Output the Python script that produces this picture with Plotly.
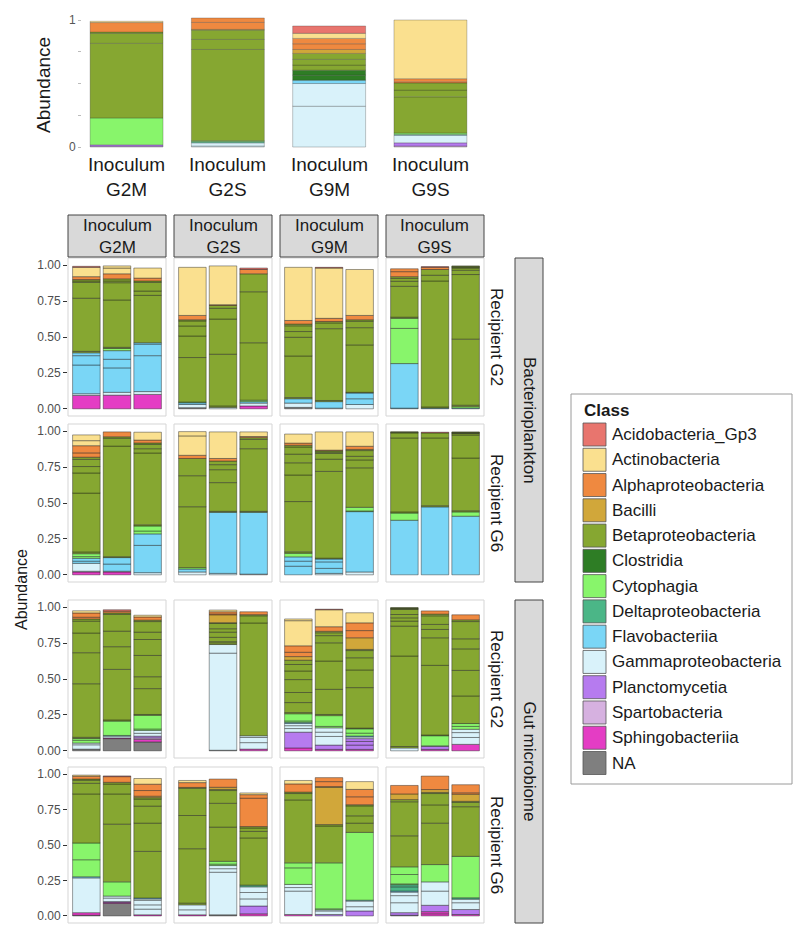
import plotly.graph_objects as go

# ---------------- data ----------------
CLASSES = ["Acidobacteria_Gp3", "Actinobacteria", "Alphaproteobacteria", "Bacilli",
           "Betaproteobacteria", "Clostridia", "Cytophagia", "Deltaproteobacteria",
           "Flavobacteriia", "Gammaproteobacteria", "Planctomycetia", "Spartobacteria",
           "Sphingobacteriia", "NA"]
CODES = ["Ac", "At", "Al", "Ba", "Be", "Cl", "Cy", "De", "Fl", "Ga", "Pl", "Sp", "Sh", "NA"]
INOCULA = ["G2M", "G2S", "G9M", "G9S"]
SOURCES = ["Bacterioplankton", "Gut microbiome"]
RECIPIENTS = ["Recipient G2", "Recipient G6"]
Y_TICKS = [0, 0.25, 0.5, 0.75, 1.0]
Y_TICK_TEXT = ["0.00", "0.25", "0.50", "0.75", "1.00"]
TOP_TICK_TEXT = ["0", "", "", "", "1"]

# Inoculum bars (segments bottom -> top: class code, abundance)
INOC_G2M = [("Sp", 0.005), ("Pl", 0.012), ("Cy", 0.212), ("Be", 0.587), ("Be", 0.079), ("Be", 0.010),
            ("Al", 0.075), ("At", 0.010)]
INOC_G2S = [("Ga", 0.008), ("Ga", 0.025), ("De", 0.010), ("Cy", 0.007), ("Be", 0.718), ("Be", 0.079),
            ("Be", 0.073), ("Be", 0.006), ("Al", 0.055), ("Al", 0.035)]
INOC_G9M = [("Ga", 0.321), ("Ga", 0.179), ("Fl", 0.026), ("Cl", 0.040), ("Cl", 0.039), ("Be", 0.040),
            ("Be", 0.045), ("Be", 0.047), ("Ba", 0.031), ("Al", 0.045), ("Al", 0.042), ("At", 0.040),
            ("Ac", 0.058)]
INOC_G9S = [("Sp", 0.008), ("Pl", 0.025), ("Ga", 0.059), ("Fl", 0.006), ("Cy", 0.012), ("Be", 0.285),
            ("Be", 0.053), ("Be", 0.057), ("Al", 0.008), ("Al", 0.025), ("At", 0.462)]

# Bacterioplankton, Recipient G2
BP_G2_G2M = [
    [("Sh", 0.093), ("Ga", 0.012), ("Fl", 0.200), ("Fl", 0.065), ("Fl", 0.020), ("Be", 0.010), ("Be", 0.370),
     ("Be", 0.110), ("Be", 0.010), ("Be", 0.010), ("Al", 0.020), ("At", 0.065), ("Ac", 0.007)],
    [("Sh", 0.095), ("Ga", 0.020), ("Fl", 0.170), ("Fl", 0.060), ("Fl", 0.060), ("Cy", 0.015), ("Be", 0.008),
     ("Be", 0.330), ("Be", 0.120), ("Be", 0.012), ("Be", 0.015), ("Al", 0.035), ("At", 0.040), ("At", 0.015)],
    [("Sh", 0.100), ("Ga", 0.020), ("Fl", 0.250), ("Fl", 0.080), ("Fl", 0.010), ("Be", 0.330), ("Be", 0.030),
     ("Be", 0.060), ("Be", 0.010), ("Al", 0.020), ("At", 0.070)],
]
BP_G2_G2S = [
    [("NA", 0.008), ("Ga", 0.022), ("Fl", 0.012), ("Cy", 0.005), ("Be", 0.310), ("Be", 0.150), ("Be", 0.070),
     ("Be", 0.035), ("Be", 0.008), ("Al", 0.030), ("At", 0.335)],
    [("Ga", 0.010), ("Be", 0.010), ("Be", 0.360), ("Be", 0.245), ("Be", 0.075), ("Be", 0.020), ("Al", 0.005),
     ("At", 0.270)],
    [("Sh", 0.020), ("Ga", 0.020), ("Fl", 0.010), ("Cy", 0.010), ("Be", 0.400), ("Be", 0.355), ("Be", 0.125),
     ("Al", 0.030), ("Ac", 0.010)],
]
BP_G2_G9M = [
    [("NA", 0.010), ("Ga", 0.030), ("Fl", 0.030), ("Be", 0.008), ("Be", 0.290), ("Be", 0.130), ("Be", 0.040),
     ("Be", 0.040), ("Be", 0.012), ("Al", 0.025), ("At", 0.370)],
    [("Ga", 0.005), ("Fl", 0.045), ("Be", 0.008), ("Be", 0.500), ("Be", 0.040), ("Be", 0.010), ("Al", 0.022),
     ("At", 0.350), ("Ac", 0.005)],
    [("Ga", 0.030), ("Fl", 0.040), ("Fl", 0.040), ("Be", 0.005), ("Be", 0.330), ("Be", 0.120), ("Be", 0.045),
     ("Be", 0.010), ("Al", 0.030), ("At", 0.320)],
]
BP_G2_G9S = [
    [("Fl", 0.005), ("Fl", 0.310), ("Cy", 0.245), ("Cy", 0.070), ("Be", 0.008), ("Be", 0.215), ("Be", 0.035),
     ("Be", 0.020), ("Be", 0.012), ("Al", 0.035), ("Al", 0.020)],
    [("Fl", 0.005), ("Be", 0.008), ("Be", 0.877), ("Be", 0.040), ("Be", 0.040), ("Al", 0.015), ("Ac", 0.005)],
    [("Fl", 0.005), ("Cy", 0.010), ("Be", 0.010), ("Be", 0.460), ("Be", 0.450), ("Be", 0.030), ("Be", 0.015),
     ("Be", 0.005), ("Be", 0.005), ("Be", 0.005)],
]

# Bacterioplankton, Recipient G6
BP_G6_G2M = [
    [("Sh", 0.020), ("Ga", 0.005), ("Ga", 0.055), ("Fl", 0.015), ("Fl", 0.020), ("Cy", 0.012), ("Cy", 0.020),
     ("Be", 0.012), ("Be", 0.410), ("Be", 0.140), ("Be", 0.045), ("Be", 0.050), ("Be", 0.015), ("Al", 0.030),
     ("Al", 0.050), ("At", 0.035), ("At", 0.040)],
    [("Sh", 0.020), ("Ga", 0.005), ("Fl", 0.050), ("Fl", 0.045), ("Be", 0.006), ("Be", 0.770), ("Be", 0.055),
     ("Be", 0.010), ("Al", 0.034)],
    [("Ga", 0.015), ("Fl", 0.190), ("Fl", 0.080), ("Cy", 0.020), ("Cy", 0.035), ("Be", 0.008), ("Be", 0.500),
     ("Be", 0.030), ("Be", 0.030), ("Be", 0.010), ("Al", 0.020), ("At", 0.055)],
]
BP_G6_G2S = [
    [("Ga", 0.020), ("Fl", 0.020), ("Cy", 0.010), ("Be", 0.424), ("Be", 0.216), ("Be", 0.120), ("Al", 0.022),
     ("At", 0.135), ("At", 0.030)],
    [("Ga", 0.010), ("Fl", 0.425), ("Be", 0.007), ("Be", 0.200), ("Be", 0.090), ("Be", 0.035), ("Be", 0.025),
     ("Al", 0.018), ("At", 0.185)],
    [("Ga", 0.005), ("Fl", 0.430), ("Be", 0.007), ("Be", 0.436), ("Be", 0.065), ("Be", 0.012), ("Al", 0.008),
     ("At", 0.032)],
]
BP_G6_G9M = [
    [("Fl", 0.060), ("Fl", 0.035), ("Fl", 0.030), ("Cy", 0.025), ("Be", 0.010), ("Be", 0.350), ("Be", 0.185),
     ("Be", 0.085), ("Be", 0.060), ("Be", 0.050), ("Be", 0.012), ("Al", 0.015), ("At", 0.063)],
    [("Ga", 0.010), ("Fl", 0.035), ("Fl", 0.045), ("Fl", 0.020), ("Be", 0.006), ("Be", 0.604), ("Be", 0.085),
     ("Be", 0.040), ("Be", 0.009), ("Be", 0.009), ("Al", 0.005), ("At", 0.127)],
    [("Ga", 0.020), ("Fl", 0.420), ("Cy", 0.005), ("Cy", 0.025), ("Be", 0.275), ("Be", 0.055), ("Be", 0.025),
     ("Be", 0.040), ("Be", 0.008), ("Al", 0.022), ("At", 0.100)],
]
BP_G6_G9S = [
    [("Fl", 0.380), ("Cy", 0.050), ("Be", 0.008), ("Be", 0.515), ("Be", 0.035), ("Be", 0.004), ("Be", 0.004)],
    [("Fl", 0.473), ("Be", 0.008), ("Be", 0.472), ("Be", 0.035), ("Ac", 0.005)],
    [("Fl", 0.408), ("Cy", 0.030), ("Be", 0.008), ("Be", 0.367), ("Be", 0.160), ("Be", 0.010), ("Be", 0.004),
     ("Be", 0.004), ("Be", 0.004)],
]

# Gut microbiome, Recipient G2
GM_G2_G2M = [
    [("NA", 0.012), ("Ga", 0.030), ("Ga", 0.012), ("Cy", 0.020), ("Cy", 0.012), ("Be", 0.008), ("Be", 0.373),
     ("Be", 0.216), ("Be", 0.137), ("Be", 0.083), ("Be", 0.015), ("Al", 0.012), ("Al", 0.030), ("At", 0.015)],
    [("NA", 0.085), ("Sh", 0.005), ("Ga", 0.012), ("Fl", 0.005), ("Cy", 0.100), ("Be", 0.008), ("Be", 0.352),
     ("Be", 0.158), ("Be", 0.108), ("Be", 0.117), ("Be", 0.010), ("Al", 0.012), ("Ac", 0.010)],
    [("NA", 0.062), ("Sh", 0.018), ("Sp", 0.010), ("Pl", 0.012), ("Ga", 0.020), ("Ga", 0.020), ("Cy", 0.010),
     ("Cy", 0.095), ("Be", 0.006), ("Be", 0.180), ("Be", 0.083), ("Be", 0.148), ("Be", 0.111), ("Be", 0.051),
     ("Be", 0.074), ("Be", 0.010), ("Al", 0.022), ("At", 0.012)],
]
GM_G2_G2S = [
    [],
    [("NA", 0.004), ("Ga", 0.676), ("Ga", 0.060), ("Be", 0.012), ("Be", 0.008), ("Be", 0.030), ("Be", 0.036),
     ("Be", 0.024), ("Be", 0.037), ("Be", 0.005), ("Ba", 0.055), ("Al", 0.006), ("Al", 0.015), ("At", 0.012)],
    [("Sh", 0.012), ("Ga", 0.045), ("Ga", 0.036), ("Ga", 0.012), ("Be", 0.785), ("Be", 0.050), ("Be", 0.008),
     ("Al", 0.020)],
]
GM_G2_G9M = [
    [("Sh", 0.020), ("Pl", 0.110), ("Ga", 0.025), ("Ga", 0.020), ("Ga", 0.015), ("Fl", 0.008), ("Cy", 0.010),
     ("Cy", 0.050), ("Be", 0.008), ("Be", 0.070), ("Be", 0.070), ("Be", 0.090), ("Be", 0.060), ("Be", 0.045),
     ("Be", 0.030), ("Ba", 0.025), ("Al", 0.030), ("Al", 0.045), ("At", 0.175), ("At", 0.012)],
    [("Sh", 0.010), ("Pl", 0.030), ("Ga", 0.060), ("Ga", 0.030), ("Ga", 0.030), ("Cy", 0.010), ("Cy", 0.075),
     ("Be", 0.008), ("Be", 0.175), ("Be", 0.197), ("Be", 0.127), ("Be", 0.050), ("Be", 0.020), ("Be", 0.010),
     ("Al", 0.032), ("At", 0.118), ("Ac", 0.004)],
    [("Sh", 0.010), ("Pl", 0.030), ("Pl", 0.025), ("Pl", 0.020), ("Ga", 0.012), ("Fl", 0.006), ("Cy", 0.020),
     ("Cy", 0.030), ("Be", 0.005), ("Be", 0.282), ("Be", 0.123), ("Be", 0.085), ("Be", 0.050), ("Be", 0.008),
     ("Ba", 0.081), ("Al", 0.050), ("Al", 0.054), ("At", 0.070)],
]
GM_G2_G9S = [
    [("Ga", 0.020), ("Be", 0.010), ("Be", 0.630), ("Be", 0.208), ("Be", 0.035), ("Be", 0.023), ("Be", 0.023),
     ("Be", 0.036), ("Be", 0.004), ("Be", 0.004), ("Be", 0.004)],
    [("Sh", 0.010), ("Pl", 0.020), ("Ga", 0.005), ("Cy", 0.070), ("Be", 0.005), ("Be", 0.485), ("Be", 0.192),
     ("Be", 0.058), ("Be", 0.035), ("Be", 0.060), ("Be", 0.012), ("Al", 0.022)],
    [("Sh", 0.045), ("Ga", 0.048), ("Ga", 0.034), ("Ga", 0.023), ("Cy", 0.020), ("Cy", 0.020), ("Be", 0.192),
     ("Be", 0.178), ("Be", 0.150), ("Be", 0.070), ("Be", 0.120), ("Be", 0.012), ("Al", 0.035)],
]

# Gut microbiome, Recipient G6
GM_G6_G2M = [
    [("NA", 0.005), ("Sh", 0.018), ("Ga", 0.245), ("Fl", 0.008), ("Cy", 0.120), ("Cy", 0.118), ("Be", 0.346),
     ("Be", 0.075), ("Be", 0.022), ("Be", 0.008), ("Al", 0.020), ("At", 0.008)],
    [("NA", 0.088), ("Sh", 0.008), ("Pl", 0.005), ("Ga", 0.025), ("Ga", 0.014), ("Cy", 0.100), ("Be", 0.407),
     ("Be", 0.213), ("Be", 0.070), ("Be", 0.012), ("Al", 0.040), ("Ac", 0.005)],
    [("Sh", 0.008), ("Ga", 0.040), ("Ga", 0.030), ("Ga", 0.032), ("Ga", 0.010), ("Fl", 0.006), ("Be", 0.329),
     ("Be", 0.199), ("Be", 0.120), ("Be", 0.050), ("Be", 0.010), ("Ba", 0.010), ("Al", 0.040), ("Al", 0.045),
     ("At", 0.040)],
]
GM_G6_G2S = [
    [("Sh", 0.008), ("Ga", 0.035), ("Ga", 0.035), ("Be", 0.012), ("Be", 0.384), ("Be", 0.234), ("Be", 0.192),
     ("Be", 0.006), ("Al", 0.034), ("At", 0.015)],
    [("NA", 0.008), ("Ga", 0.300), ("Ga", 0.025), ("Ga", 0.022), ("Cy", 0.010), ("Cy", 0.020), ("Be", 0.241),
     ("Be", 0.168), ("Be", 0.090), ("Be", 0.008), ("Ba", 0.015), ("Al", 0.058)],
    [("Sh", 0.015), ("Pl", 0.055), ("Ga", 0.050), ("Ga", 0.045), ("Ga", 0.040), ("De", 0.012), ("Be", 0.333),
     ("Be", 0.046), ("Be", 0.024), ("Be", 0.010), ("Al", 0.200), ("Al", 0.025), ("At", 0.012)],
]
GM_G6_G9M = [
    [("Sh", 0.010), ("Ga", 0.165), ("Ga", 0.025), ("Ga", 0.022), ("Cy", 0.117), ("Cy", 0.035), ("Be", 0.444),
     ("Be", 0.045), ("Be", 0.010), ("Al", 0.058), ("At", 0.024)],
    [("Pl", 0.010), ("Ga", 0.025), ("Ga", 0.008), ("Cy", 0.007), ("Cy", 0.324), ("Be", 0.260), ("Be", 0.010),
     ("Ba", 0.262), ("Ba", 0.006), ("Al", 0.035), ("Al", 0.028)],
    [("Pl", 0.035), ("Ga", 0.030), ("Ga", 0.040), ("Fl", 0.006), ("Cy", 0.478), ("Be", 0.065), ("Be", 0.052),
     ("Be", 0.070), ("Be", 0.008), ("Al", 0.056), ("Al", 0.052), ("At", 0.055)],
]
GM_G6_G9S = [
    [("NA", 0.005), ("Pl", 0.018), ("Ga", 0.070), ("Ga", 0.050), ("Ga", 0.025), ("Fl", 0.007), ("De", 0.030),
     ("De", 0.015), ("Cy", 0.006), ("Cy", 0.066), ("Cy", 0.054), ("Be", 0.219), ("Be", 0.240), ("Be", 0.015),
     ("Ba", 0.040), ("Al", 0.060)],
    [("Sh", 0.015), ("Sh", 0.015), ("Pl", 0.045), ("Ga", 0.100), ("Ga", 0.065), ("Cy", 0.122), ("Be", 0.292),
     ("Be", 0.129), ("Be", 0.080), ("Be", 0.008), ("Ba", 0.020), ("Al", 0.095)],
    [("Sh", 0.010), ("Pl", 0.035), ("Ga", 0.048), ("Ga", 0.025), ("De", 0.010), ("Cy", 0.292), ("Be", 0.350),
     ("Be", 0.030), ("Be", 0.008), ("Ba", 0.050), ("Al", 0.010), ("Al", 0.057)],
]

INOC_BARS = [INOC_G2M, INOC_G2S, INOC_G9M, INOC_G9S]
FACET_ROWS = [
    [BP_G2_G2M, BP_G2_G2S, BP_G2_G9M, BP_G2_G9S],
    [BP_G6_G2M, BP_G6_G2S, BP_G6_G9M, BP_G6_G9S],
    [GM_G2_G2M, GM_G2_G2S, GM_G2_G9M, GM_G2_G9S],
    [GM_G6_G2M, GM_G6_G2S, GM_G6_G9M, GM_G6_G9S],
]

# ---------------- style ----------------
PALETTE = ["#E8756E", "#FAE08F", "#EF8940", "#D1A73A", "#86A731", "#2E7D25", "#88F56B",
           "#4BB687", "#7AD6F6", "#D9F2FA", "#B67BEF", "#D6B1E0", "#E43DC4", "#7F7F7F"]
COLOR = dict(zip(CODES, PALETTE))
OUTLINE_TOP = "rgba(40,40,40,0.45)"
OUTLINE = "rgba(25,25,25,0.7)"
FONT = "Liberation Sans, Arial, Helvetica, sans-serif"
W, H = 800, 938


def fx(px):
    return px / W


def fy(py):
    return 1 - py / H


COL_PX = [(68, 166), (174, 272), (280, 378), (386, 484)]
ROW_PX = [(258, 416), (424, 582), (600, 758), (767, 923)]

fig = go.Figure()
layout = dict(
    width=W, height=H, margin=dict(l=0, r=0, t=0, b=0),
    paper_bgcolor="white", plot_bgcolor="white", barmode="overlay",
    showlegend=False, font=dict(family=FONT, color="#1a1a1a"),
)
shapes, annotations = [], []


def note(x, y, text, size, angle=0, xanchor="center", xref="paper", bold=False):
    annotations.append(dict(x=x, y=y, xref=xref, yref="paper",
                            text=("<b>%s</b>" % text) if bold else text,
                            textangle=angle, showarrow=False, xanchor=xanchor, yanchor="middle",
                            align="center" if xanchor == "center" else "left",
                            font=dict(size=size, color="#1a1a1a", family=FONT)))


def add_bars(bars, axis_n, width, outline):
    xs, ys, bases, cols = [], [], [], []
    for i, segs in enumerate(bars):
        cum = 0.0
        for code, val in segs:
            xs.append(i + 1)
            ys.append(val)
            bases.append(cum)
            cols.append(COLOR[code])
            cum += val
    sfx = "" if axis_n == 1 else str(axis_n)
    fig.add_trace(go.Bar(
        x=xs, y=ys, base=bases, width=width,
        marker=dict(color=cols, line=dict(color=outline, width=0.6)),
        xaxis="x" + sfx, yaxis="y" + sfx, hoverinfo="skip", showlegend=False,
    ))


# ---- top inoculum plot ----
add_bars(INOC_BARS, 1, 0.72, OUTLINE_TOP)
layout["xaxis"] = dict(domain=[fx(82), fx(475)], range=[0.56, 4.44], showticklabels=False,
                       showgrid=False, zeroline=False, showline=False, ticks="", anchor="y")
layout["yaxis"] = dict(domain=[fy(153), fy(12)], range=[-0.047, 1.063], tickvals=Y_TICKS,
                       ticktext=TOP_TICK_TEXT, ticks="outside", ticklen=3, tickcolor="#BBBBBB",
                       tickfont=dict(size=12, color="#555555"), showgrid=False, zeroline=False,
                       showline=False, anchor="x")
for i, name in enumerate(INOCULA):
    note(i + 1, fy(177.5), "Inoculum<br>" + name, 19, xref="x")
note(fx(43), fy(85), "Abundance", 19, angle=-90)

# ---- facet grid ----
for r, row in enumerate(FACET_ROWS):
    for c, bars in enumerate(row):
        n = 2 + r * 4 + c
        add_bars(bars, n, 0.9, OUTLINE)
        x0, x1 = COL_PX[c]
        y0, y1 = ROW_PX[r]
        layout["xaxis%d" % n] = dict(domain=[fx(x0), fx(x1)], range=[0.4, 3.6], showticklabels=False,
                                     showgrid=False, zeroline=False, showline=False, ticks="",
                                     anchor="y%d" % n)
        yax = dict(domain=[fy(y1), fy(y0)], range=[-0.05, 1.05], showgrid=False, zeroline=False,
                   showline=False, anchor="x%d" % n)
        if c == 0:
            yax.update(tickvals=Y_TICKS, ticktext=Y_TICK_TEXT, ticks="outside", ticklen=4,
                       tickcolor="#333333", tickwidth=1,
                       tickfont=dict(size=12, color="#4d4d4d"))
        else:
            yax.update(showticklabels=False, ticks="")
        layout["yaxis%d" % n] = yax
        shapes.append(dict(type="rect", xref="x%d domain" % n, yref="y%d domain" % n,
                           x0=0, x1=1, y0=0, y1=1, line=dict(color="#D5D5D5", width=1),
                           fillcolor="rgba(0,0,0,0)", layer="above"))

# top strips
for c, name in enumerate(INOCULA):
    x0, x1 = COL_PX[c]
    shapes.append(dict(type="rect", xref="paper", yref="paper", x0=fx(x0), x1=fx(x1),
                       y0=fy(257), y1=fy(215), fillcolor="#D9D9D9",
                       line=dict(color="#444444", width=1)))
    note(fx((x0 + x1) / 2), fy(236), "Inoculum<br>" + name, 17)

# right labels
for r in range(4):
    y0, y1 = ROW_PX[r]
    note(fx(497), fy((y0 + y1) / 2), RECIPIENTS[r % 2], 17, angle=90)
for s, name in enumerate(SOURCES):
    y0 = ROW_PX[2 * s][0]
    y1 = ROW_PX[2 * s + 1][1]
    shapes.append(dict(type="rect", xref="paper", yref="paper", x0=fx(515), x1=fx(543),
                       y0=fy(y1), y1=fy(y0), fillcolor="#D9D9D9",
                       line=dict(color="#444444", width=1)))
    note(fx(529), fy((y0 + y1) / 2), name, 17, angle=90)

note(fx(21), fy(590), "Abundance", 16, angle=-90)

# ---- legend (drawn) ----
shapes.append(dict(type="rect", xref="paper", yref="paper", x0=fx(571), x1=fx(792),
                   y0=fy(784), y1=fy(394), line=dict(color="#9A9A9A", width=1),
                   fillcolor="white"))
note(fx(582), fy(410), "Class", 17, xanchor="left", bold=True)
for i, (cls, code) in enumerate(zip(CLASSES, CODES)):
    cy = 434.5 + i * 25.27
    shapes.append(dict(type="rect", xref="paper", yref="paper", x0=fx(583), x1=fx(606),
                       y0=fy(cy + 11.5), y1=fy(cy - 11.5), fillcolor=COLOR[code],
                       line=dict(color="#555555", width=0.8)))
    note(fx(610), fy(cy), cls, 17, xanchor="left")

layout["shapes"] = shapes
layout["annotations"] = annotations
fig.update_layout(**layout)

fig.write_html("out.html", config={"displayModeBar": False},
               post_script="document.body.style.margin='0px';")
